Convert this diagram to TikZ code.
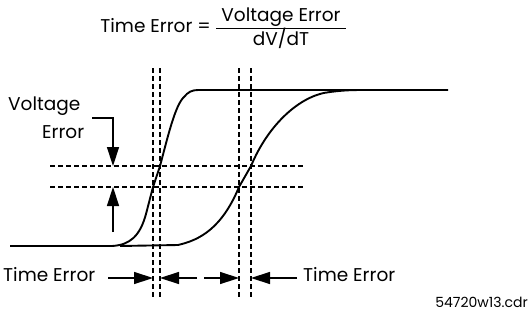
\documentclass[tikz,border=0pt]{standalone}
\usepackage{fontspec}
\setmainfont{Poppins}
\usetikzlibrary{arrows.meta}
\begin{document}
\begin{tikzpicture}[x=1pt,y=-1pt,
  txt/.style={inner sep=0pt,font=\fontsize{18.5}{21}\selectfont},
  guide/.style={line width=1.2pt,dash pattern=on 5pt off 3pt},
  curve/.style={line width=1.9pt,line join=round},
  arr/.style={line width=1.4pt,-{Triangle[length=19pt,width=12pt]}}]
\useasboundingbox (0,0) rectangle (531,325);
% title
\node[txt,anchor=base east] (teq) at (211,32) {Time Error =};
\node[txt,anchor=base] (num) at (281,21) {Voltage Error};
\node[txt,anchor=base] (den) at (281,45) {dV/dT};
\draw[line width=1pt] (216,28) -- (346,28);
% guides
\coordinate (v1t) at (153,68); \coordinate (v1b) at (153,297);
\coordinate (v2t) at (160,68); \coordinate (v2b) at (160,297);
\coordinate (v3t) at (239,68); \coordinate (v3b) at (239,297);
\coordinate (v4t) at (251,68); \coordinate (v4b) at (251,297);
\coordinate (h1l) at (50,166); \coordinate (h1r) at (304,166);
\coordinate (h2l) at (50,187); \coordinate (h2r) at (304,187);
\draw[guide] (v1t) -- (v1b);
\draw[guide] (v2t) -- (v2b);
\draw[guide] (v3t) -- (v3b);
\draw[guide] (v4t) -- (v4b);
\draw[guide] (h1l) -- (h1r);
\draw[guide] (h2l) -- (h2r);
% fast curve
\draw[curve] (10,246) -- (112,246)
  .. controls (130,245) and (140,236) .. (146,214)
  -- (153,187) -- (160,166)
  .. controls (167,140) and (175,105) .. (184,97)
  .. controls (188,92) and (192,90) .. (198,90)
  -- (448,90);
% slow curve
\draw[curve] (120,246) -- (178,245)
  .. controls (200,240) and (222,228) .. (239,187)
  -- (251,166)
  .. controls (268,125) and (300,95) .. (330,92)
  .. controls (345,90) and (355,90) .. (365,90);
% voltage error
\node[txt,anchor=base west] (ve1) at (8,110) {Voltage};
\node[txt,anchor=base west] (ve2) at (42,138) {Error};
\coordinate (va) at (92,118);
\coordinate (vb) at (113,118);
\coordinate (vt) at (113,166);
\coordinate (vu) at (113,232);
\coordinate (vp) at (113,187);
\draw[arr] (va) -- (vb) -- (vt);
\draw[arr] (vu) -- (vp);
% time error
\node[txt,anchor=base west] (tel) at (3,281) {Time Error};
\node[txt,anchor=base west] (ter) at (303,281) {Time Error};
\coordinate (a1) at (108,278); \coordinate (t1) at (153,278);
\coordinate (a2) at (197,278); \coordinate (t2) at (160,278);
\coordinate (a3) at (204,278); \coordinate (t3) at (239,278);
\coordinate (a4) at (297,278); \coordinate (t4) at (251,278);
\draw[arr] (a1) -- (t1);
\draw[arr] (a2) -- (t2);
\draw[arr] (a3) -- (t3);
\draw[arr] (a4) -- (t4);
\node[txt,anchor=base east,font=\fontsize{14}{16}\selectfont] (fn) at (528,307) {54720w13.cdr};
\end{tikzpicture}
\end{document}
